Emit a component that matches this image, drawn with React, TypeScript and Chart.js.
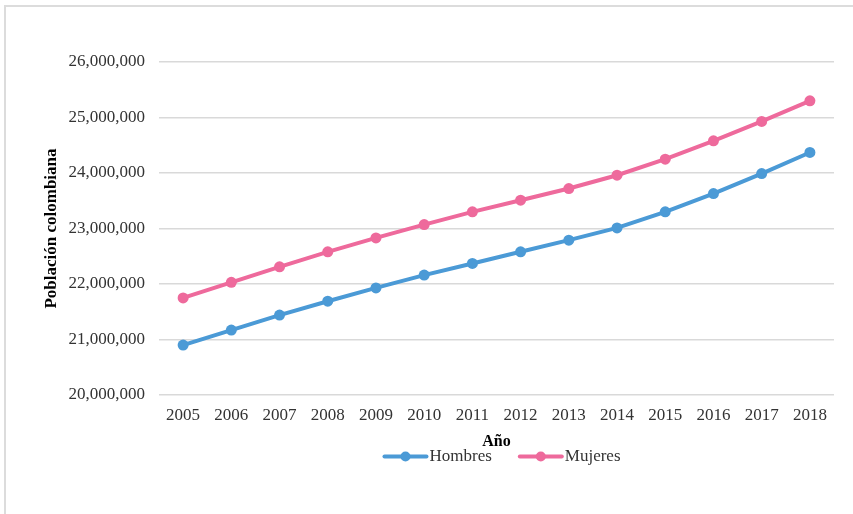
import React, { useEffect, useRef } from "react";
import { Chart, registerables } from "chart.js";

Chart.register(...registerables);

// Años de la serie
const years = ["2005", "2006", "2007", "2008", "2009", "2010", "2011", "2012", "2013", "2014", "2015", "2016", "2017", "2018"];

// Población por sexo
const hombres = [20900000, 21170000, 21440000, 21690000, 21930000, 22160000, 22370000, 22580000, 22790000, 23010000, 23300000, 23630000, 23990000, 24370000];
const mujeres = [21750000, 22030000, 22310000, 22580000, 22830000, 23070000, 23300000, 23510000, 23720000, 23960000, 24250000, 24580000, 24930000, 25300000];

// Marcas del eje vertical
const yTicks = [20000000, 21000000, 22000000, 23000000, 24000000, 25000000, 26000000];

const seriesLabels = ["Hombres", "Mujeres"];
const seriesColors = ["#4b9ad6", "#ee6a9c"];

const FONT = "'Liberation Serif', 'Times New Roman', serif";
const TEXT = "#333333";

// Leyenda dibujada en el lienzo: línea con marcador + texto
const lineLegend = {
  id: "lineLegend",
  afterDraw(chart: Chart) {
    const { ctx } = chart;
    const lineW = 44;
    const gapText = 2;
    const gapItem = 27;
    const cy = 456.5;
    ctx.save();
    ctx.font = `17px ${FONT}`;
    const items = chart.data.datasets.map((ds: any) => ({
      label: ds.label as string,
      color: ds.borderColor as string,
      w: ctx.measureText(ds.label).width,
    }));
    const total =
      items.reduce((s, it) => s + lineW + gapText + it.w, 0) + gapItem * (items.length - 1);
    let x = 502 - total / 2;
    items.forEach((it) => {
      ctx.strokeStyle = it.color;
      ctx.lineWidth = 4;
      ctx.lineCap = "round";
      ctx.beginPath();
      ctx.moveTo(x + 1, cy);
      ctx.lineTo(x + lineW - 1, cy);
      ctx.stroke();
      ctx.fillStyle = it.color;
      ctx.beginPath();
      ctx.arc(x + lineW / 2, cy, 5, 0, Math.PI * 2);
      ctx.fill();
      ctx.fillStyle = TEXT;
      ctx.textAlign = "left";
      ctx.textBaseline = "middle";
      ctx.fillText(it.label, x + lineW + gapText, cy + 0.5);
      x += lineW + gapText + it.w + gapItem;
    });
    ctx.restore();
  },
};

export default function App() {
  const canvasRef = useRef<HTMLCanvasElement | null>(null);

  useEffect(() => {
    if (!canvasRef.current) return;
    const chart = new Chart(canvasRef.current, {
      type: "line",
      data: {
        labels: years,
        datasets: [hombres, mujeres].map((values, i) => ({
          label: seriesLabels[i],
          data: values,
          borderColor: seriesColors[i],
          backgroundColor: seriesColors[i],
          pointBackgroundColor: seriesColors[i],
          pointBorderWidth: 0,
          pointRadius: 5.5,
          borderWidth: 4,
          tension: 0,
          fill: false,
        })),
      },
      options: {
        animation: false,
        responsive: false,
        maintainAspectRatio: false,
        layout: { padding: { top: 62, right: 19, bottom: 63, left: 0 } },
        plugins: {
          legend: { display: false },
          tooltip: { enabled: false },
        },
        scales: {
          x: {
            offset: true,
            grid: { display: false, drawTicks: false },
            border: { display: false },
            ticks: {
              color: TEXT,
              padding: 10,
              maxRotation: 0,
              autoSkip: false,
              font: { family: FONT, size: 17 },
            },
            title: {
              display: true,
              text: "Año",
              color: "#000",
              padding: { top: 0, bottom: 0 },
              font: { family: FONT, size: 16, weight: "bold" },
            },
            afterFit(scale: any) {
              scale.height = 56;
            },
          },
          y: {
            min: yTicks[0],
            max: yTicks[yTicks.length - 1],
            afterBuildTicks(scale: any) {
              scale.ticks = yTicks.map((v) => ({ value: v }));
            },
            grid: { color: "#d9d9d9", lineWidth: 1.5, drawTicks: false },
            border: { display: false },
            ticks: {
              color: TEXT,
              padding: 14,
              font: { family: FONT, size: 17 },
              callback: (v: any) => Number(v).toLocaleString("en-US"),
            },
            title: {
              display: true,
              text: "Población colombiana",
              color: "#000",
              padding: { top: 41, bottom: 0 },
              font: { family: FONT, size: 17, weight: "bold" },
            },
            afterFit(scale: any) {
              scale.width = 159;
            },
          },
        },
      },
      plugins: [lineLegend],
    });
    return () => chart.destroy();
  }, []);

  return (
    <div
      style={{
        position: "fixed",
        left: 0,
        top: 0,
        width: 853,
        height: 514,
        background: "#fff",
        overflow: "hidden",
      }}
    >
      <div
        style={{
          position: "absolute",
          left: 4,
          top: 5,
          width: 900,
          height: 600,
          borderLeft: "2px solid #dcdcdc",
          borderTop: "2px solid #dcdcdc",
        }}
      />
      <canvas
        ref={canvasRef}
        width={853}
        height={514}
        style={{ position: "absolute", left: 0, top: 0, width: 853, height: 514 }}
      />
    </div>
  );
}
